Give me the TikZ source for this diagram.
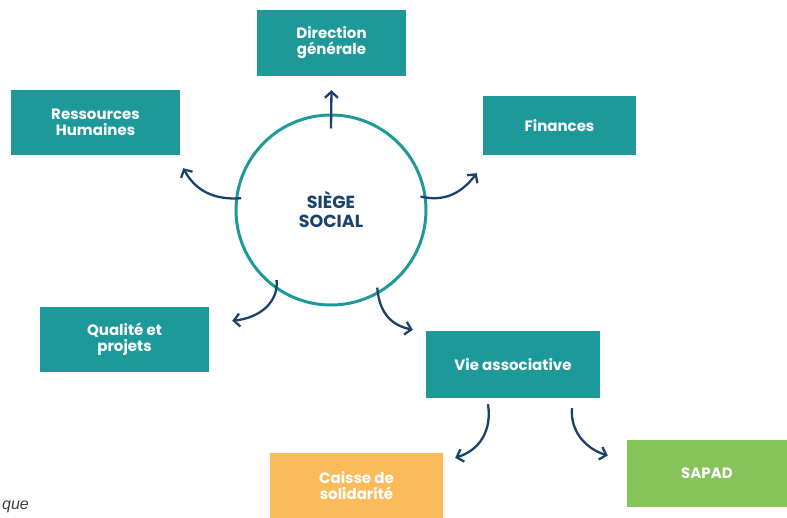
\documentclass[tikz,border=0pt]{standalone}
\usepackage{fontspec}
\setmainfont{Poppins}
\newfontfamily\notefont{Liberation Sans}
\usetikzlibrary{arrows.meta}
\usetikzlibrary{calc}
\definecolor{teal1}{HTML}{1E999A}
\definecolor{navy1}{HTML}{1B426B}
\definecolor{orange1}{HTML}{FBBB5B}
\definecolor{green1}{HTML}{86C45A}

\begin{document}
\begin{tikzpicture}[x=1pt, y=-1pt,
    box/.style={fill=teal1, text=white, align=center, inner sep=0pt,
                font=\fontsize{15}{16}\selectfont\bfseries},
    arr/.style={navy1, line width=2.3pt, -{Straight Barb[length=6pt,width=13pt]}}]

    \useasboundingbox (0,0) rectangle (787,518);

    % Define nodes
    \node (siege) [draw=teal1, line width=3pt, circle, minimum size=190pt, inner sep=0pt,
        text=navy1, align=center, font=\fontsize{17.5}{19}\selectfont\bfseries] at (331,210) {SIÈGE\\SOCIAL};

    \node (dg) [box, minimum width=149pt, minimum height=66pt] at (331.5,43) {Direction\\générale};
    \node (rh) [box, minimum width=169pt, minimum height=65pt] at (95.5,122.5) {Ressources\\Humaines};
    \node (fin) [box, minimum width=153pt, minimum height=59pt] at (559.5,125.5) {Finances};
    \node (qp) [box, minimum width=169pt, minimum height=65pt] at (124.5,339.5) {Qualité et\\projets};
    \node (va) [box, minimum width=174pt, minimum height=67pt] at (513,364.5) {Vie associative};
    \node (cs) [box, fill=orange1, minimum width=173pt, minimum height=65pt] at (356.5,485.5) {Caisse de\\solidarité};
    \node (sap) [box, fill=green1, minimum width=160pt, minimum height=67pt] at (707,473.5) {SAPAD};

    \node (note) [anchor=base east, inner sep=0pt, text=black!75, font=\notefont\itshape\fontsize{16}{18}\selectfont] at (29,509) {que};

    % Arrow ends
    \coordinate (dg-in) at ($(dg.south)+(0,14)$);
    \coordinate (rh-in) at ($(rh.south east)+(3,13)$);
    \coordinate (fin-in) at ($(fin.south west)+(-6,18)$);
    \coordinate (qp-in) at ($(qp.north east)+(23,14)$);
    \coordinate (va-in) at ($(va.north west)+(-13,-1)$);
    \coordinate (va-l) at ($(va.south)+(-25,6)$);
    \coordinate (va-r) at ($(va.south)+(59,10)$);
    \coordinate (cs-in) at ($(cs.north east)+(12,5)$);
    \coordinate (sap-in) at ($(sap.west)+(-19,-18)$);

    % Draw arrows
    \draw[arr] ($(siege.north)+(0,15)$) -- (dg-in);
    \draw[arr] ($(siege.173)+(6,0)$) .. controls +(-28,2) and +(12,22) .. (rh-in);
    \draw[arr] ($(siege.8)+(-6,0)$) .. controls +(22,5) and +(-17,22) .. (fin-in);
    \draw[arr] ($(siege.232)+(5,-6)$) .. controls +(2,22) and +(28,-3) .. (qp-in);
    \draw[arr] ($(siege.300)+(-2,-6)$) .. controls +(2,24) and +(-23,-5) .. (va-in);
    \draw[arr] (va-l) .. controls +(4,26) and +(25,-8) .. (cs-in);
    \draw[arr] (va-r) .. controls +(-2,22) and +(-23,-7) .. (sap-in);

\end{tikzpicture}
\end{document}
